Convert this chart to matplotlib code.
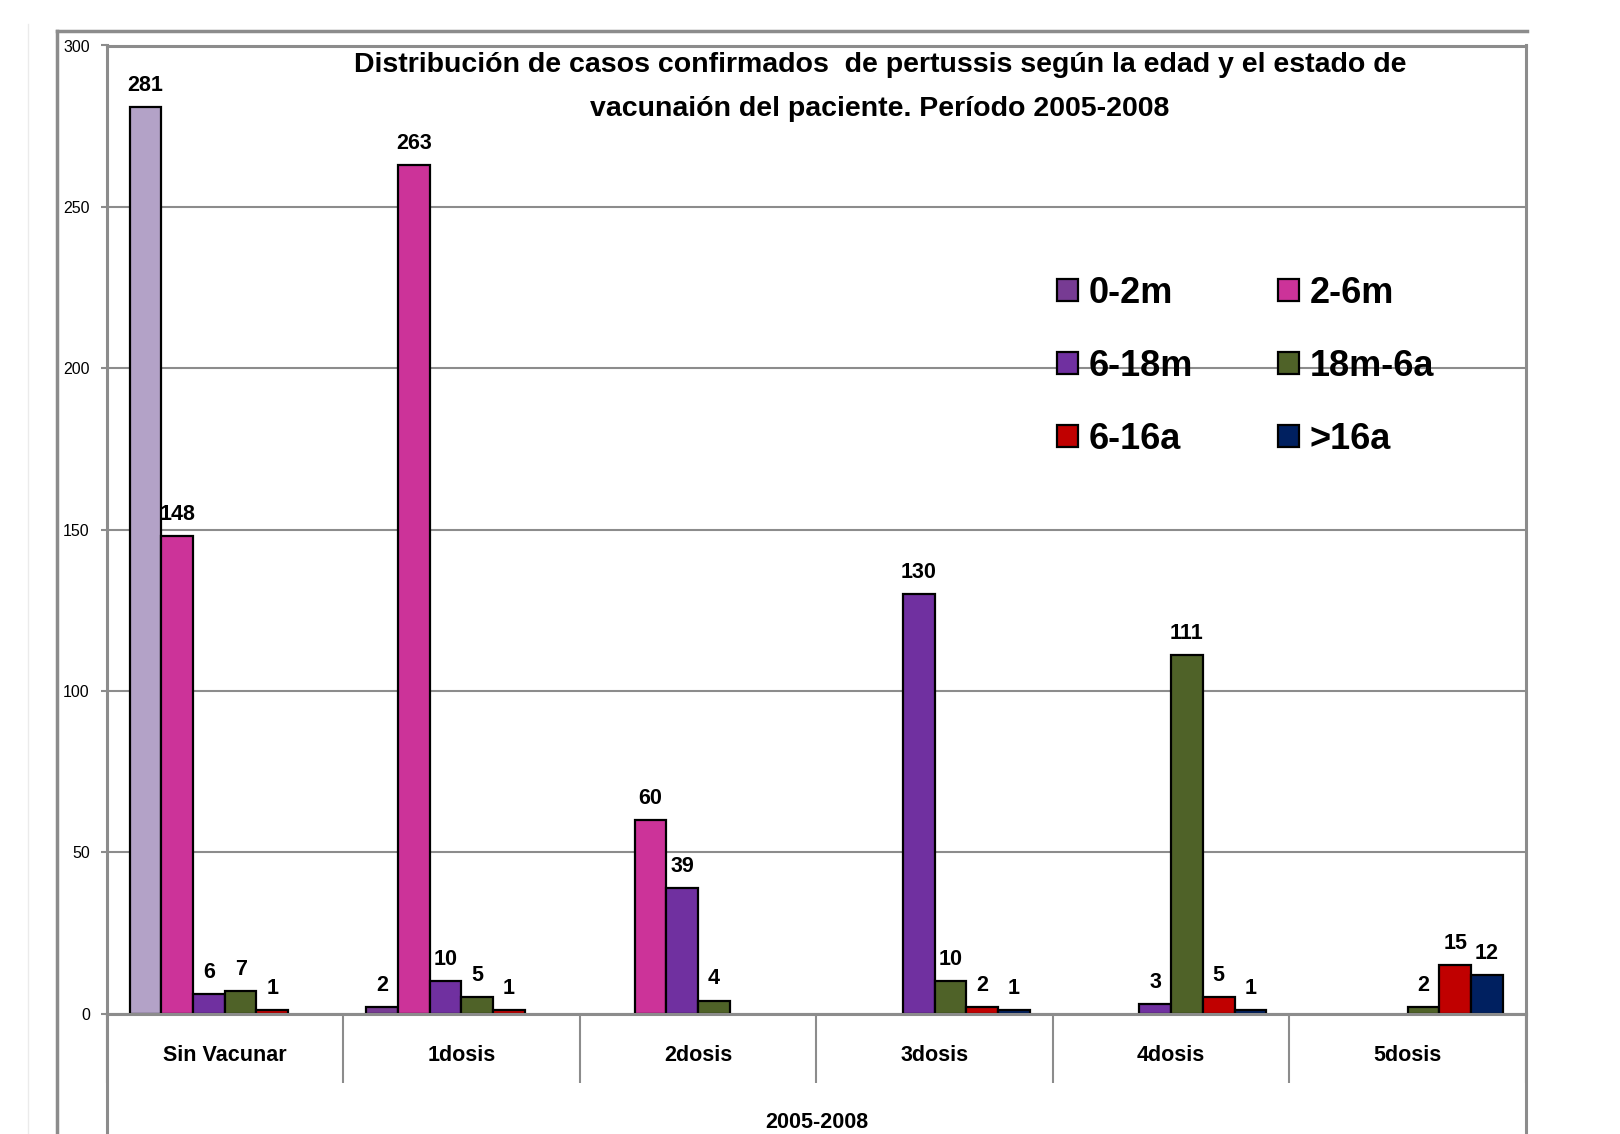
import matplotlib
matplotlib.use("Agg")
import matplotlib.pyplot as plt
from matplotlib.lines import Line2D
from matplotlib.patches import Rectangle
import numpy as np

categories = ["Sin Vacunar", "1dosis", "2dosis", "3dosis", "4dosis", "5dosis"]
series_names = ["0-2m", "2-6m", "6-18m", "18m-6a", "6-16a", ">16a"]
v_0_2m = [281, 2, 0, 0, 0, 0]
v_2_6m = [148, 263, 60, 0, 0, 0]
v_6_18m = [6, 10, 39, 130, 3, 0]
v_18m_6a = [7, 5, 4, 10, 111, 2]
v_6_16a = [1, 1, 0, 2, 5, 15]
v_16a = [0, 0, 0, 1, 1, 12]
values = [v_0_2m, v_2_6m, v_6_18m, v_18m_6a, v_6_16a, v_16a]
colors = ["#773B93", "#CC3399", "#7030A0", "#4F6228", "#C00000", "#002060"]
highlight_color = "#B3A2C7"  # color of the 0-2m bar in "Sin Vacunar"
period_label = "2005-2008"
title = ("Distribución de casos confirmados  de pertussis según la edad y el estado de\n"
         "vacunaión del paciente. Período 2005-2008")
yticks = [0, 50, 100, 150, 200, 250, 300]

plt.rcParams['font.family'] = ["Liberation Sans", "DejaVu Sans"]

W, H = 1620, 1134
fig = plt.figure(figsize=(W / 100, H / 100), dpi=100)
L, R, T, B = 106.5, 1526, 45.5, 1013.5
ax = fig.add_axes([L / W, 1 - B / H, (R - L) / W, (B - T) / H])

n = len(series_names)
bw = 0.134
x = np.arange(len(categories))
grid_c = "#8C8C8C"

ax.set_axisbelow(True)
ax.yaxis.grid(True, color=grid_c, lw=1.5)

for i, (name, vals, c) in enumerate(zip(series_names, values, colors)):
    pos = x + (i - (n - 1) / 2) * bw
    bars = ax.bar(pos, vals, width=bw, color=c, edgecolor="black", lw=1.6)
    for j, (p, v) in enumerate(zip(bars, vals)):
        if i == 0 and j == 0:
            p.set_facecolor(highlight_color)
        if v == 0:
            p.set_visible(False)
            continue
        ax.annotate(str(v), (p.get_x() + p.get_width() / 2, v), xytext=(0, 8),
                    textcoords="offset points", ha="center", va="bottom",
                    fontsize=15.5, fontweight="bold")

ax.set_xlim(-0.5, len(categories) - 0.5)
ax.set_ylim(0, 300)
ax.set_yticks(yticks)
ax.tick_params(axis="y", length=4, width=1.5, color=grid_c, pad=8, labelsize=11.5)

ax.set_xticks(np.arange(len(categories) + 1) - 0.5)
ax.set_xticklabels([])
ax.tick_params(axis="x", which="major", length=50, width=1.5, color=grid_c, direction="out")
ax.set_xticks(x, minor=True)
ax.set_xticklabels(categories, minor=True, fontsize=15.5, fontweight="bold")
ax.tick_params(axis="x", which="minor", length=0, pad=23)

for s in ["left", "bottom", "top", "right"]:
    ax.spines[s].set_color(grid_c)
    ax.spines[s].set_linewidth(2.2)

# extended left / right lines down to bottom of image
ax.add_line(Line2D([0, 0], [0, -0.3], transform=ax.transAxes, color=grid_c, lw=2.2, clip_on=False))
ax.add_line(Line2D([1, 1], [0, -0.3], transform=ax.transAxes, color=grid_c, lw=2.2, clip_on=False))

# period label
fig.text(817 / W, 1 - 1122 / H, period_label, ha="center", va="center", fontsize=15.5, fontweight="bold")

# outer frame
fig.add_artist(Line2D([57 / W, 1527 / W], [1 - 31 / H, 1 - 31 / H], color=grid_c, lw=2.5, transform=fig.transFigure))
fig.add_artist(Line2D([57 / W, 57 / W], [1 - 31 / H, 0], color=grid_c, lw=2.5, transform=fig.transFigure))
fig.add_artist(Line2D([28 / W, 28 / W], [1 - 24 / H, 0], color="#EBEBEB", lw=1, transform=fig.transFigure))

# title
fig.text(880 / W, 1 - 87 / H, title, ha="center", va="center", fontsize=20.5, fontweight="bold",
         linespacing=1.85)

# legend (row-wise order like the reference)
handles = [Rectangle((0, 0), 1, 1, facecolor=c, edgecolor="black", lw=1.6) for c in colors]
order = [0, 2, 4, 1, 3, 5]
leg = ax.legend([handles[k] for k in order], [series_names[k] for k in order],
                ncol=2, loc="upper left",
                bbox_to_anchor=((1057 - L) / (R - L), 1 - (276 - T) / (B - T)),
                frameon=False, fontsize=26, handlelength=0.58, handleheight=0.58, handletextpad=0.3,
                columnspacing=2.35, labelspacing=1.05, borderpad=0, borderaxespad=0)
for t in leg.get_texts():
    t.set_fontweight("bold")

fig.savefig("out.png", dpi=100)
